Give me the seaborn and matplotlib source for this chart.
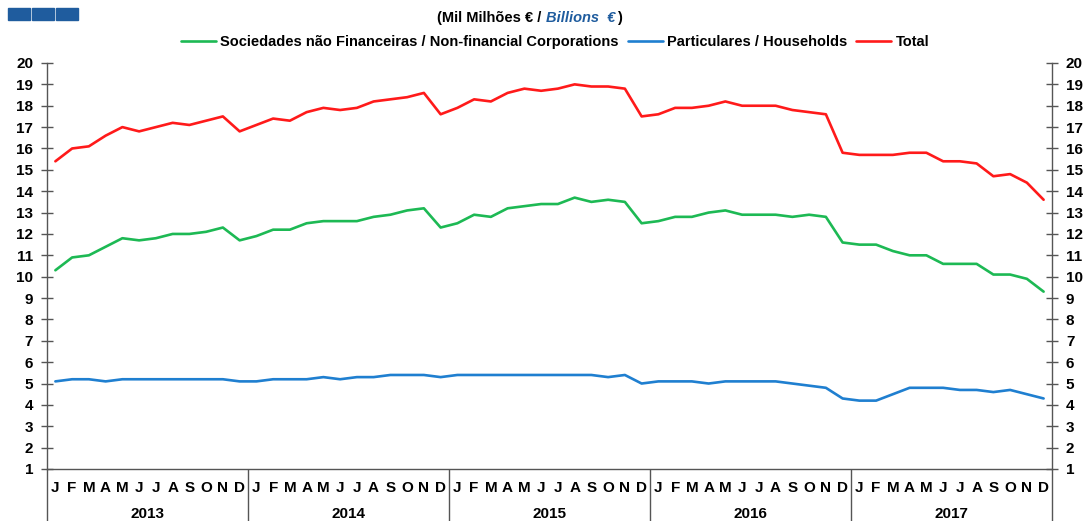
import numpy as np
import pandas as pd
import seaborn as sns
import matplotlib.pyplot as plt
from matplotlib.patches import Rectangle


years = ['2013', '2014', '2015', '2016', '2017']
month_letters = ['J', 'F', 'M', 'A', 'M', 'J', 'J', 'A', 'S', 'O', 'N', 'D']

# Mil Milhoes EUR, Jan 2013 .. Dec 2017
nfc = [10.3, 10.9, 11.0, 11.4, 11.8, 11.7, 11.8, 12.0, 12.0, 12.1, 12.3, 11.7,
       11.9, 12.2, 12.2, 12.5, 12.6, 12.6, 12.6, 12.8, 12.9, 13.1, 13.2, 12.3,
       12.5, 12.9, 12.8, 13.2, 13.3, 13.4, 13.4, 13.7, 13.5, 13.6, 13.5, 12.5,
       12.6, 12.8, 12.8, 13.0, 13.1, 12.9, 12.9, 12.9, 12.8, 12.9, 12.8, 11.6,
       11.5, 11.5, 11.2, 11.0, 11.0, 10.6, 10.6, 10.6, 10.1, 10.1, 9.9, 9.3]
households = [5.1, 5.2, 5.2, 5.1, 5.2, 5.2, 5.2, 5.2, 5.2, 5.2, 5.2, 5.1,
              5.1, 5.2, 5.2, 5.2, 5.3, 5.2, 5.3, 5.3, 5.4, 5.4, 5.4, 5.3,
              5.4, 5.4, 5.4, 5.4, 5.4, 5.4, 5.4, 5.4, 5.4, 5.3, 5.4, 5.0,
              5.1, 5.1, 5.1, 5.0, 5.1, 5.1, 5.1, 5.1, 5.0, 4.9, 4.8, 4.3,
              4.2, 4.2, 4.5, 4.8, 4.8, 4.8, 4.7, 4.7, 4.6, 4.7, 4.5, 4.3]
total = [15.4, 16.0, 16.1, 16.6, 17.0, 16.8, 17.0, 17.2, 17.1, 17.3, 17.5, 16.8,
         17.1, 17.4, 17.3, 17.7, 17.9, 17.8, 17.9, 18.2, 18.3, 18.4, 18.6, 17.6,
         17.9, 18.3, 18.2, 18.6, 18.8, 18.7, 18.8, 19.0, 18.9, 18.9, 18.8, 17.5,
         17.6, 17.9, 17.9, 18.0, 18.2, 18.0, 18.0, 18.0, 17.8, 17.7, 17.6, 15.8,
         15.7, 15.7, 15.7, 15.8, 15.8, 15.4, 15.4, 15.3, 14.7, 14.8, 14.4, 13.6]

series_names = ['Sociedades não Financeiras / Non-financial Corporations',
                'Particulares / Households', 'Total']
palette = dict(zip(series_names, ['#1db954', '#1f7fd0', '#ff1a1a']))

n = len(total)
df = pd.DataFrame({'t': list(range(n)) * 3,
                   'value': nfc + households + total,
                   'series': np.repeat(series_names, n)})

sns.set_style('white')
plt.rcParams['font.family'] = ['Liberation Sans', 'DejaVu Sans']
plt.rcParams['font.weight'] = 'bold'
plt.rcParams['text.color'] = 'black'
plt.rcParams['xtick.labelcolor'] = 'black'
plt.rcParams['ytick.labelcolor'] = 'black'

W, H = 1083, 521
fig = plt.figure(figsize=(W / 100, H / 100), dpi=100)
ax = fig.add_axes([47 / W, 1 - 469 / H, (1052 - 47) / W, (469 - 63) / H])

sns.lineplot(data=df, x='t', y='value', hue='series', palette=palette,
             linewidth=1.9, ax=ax)
sns.move_legend(ax, 'center', bbox_to_anchor=(555 / W, 1 - 42 / H),
                bbox_transform=fig.transFigure, ncol=3, frameon=False,
                title=None, fontsize=10.5, handlelength=2.4,
                handletextpad=0.3, columnspacing=0.6)
for t in ax.get_legend().get_texts():
    t.set_fontweight('bold')
    t.set_color('black')

grey = '#555555'
ax.set_xlim(-0.5, n - 0.5)
ax.set_ylim(1, 20)
ax.set_yticks(range(1, 21))
ax.tick_params(axis='y', direction='inout', length=8, width=1, color=grey,
               left=True, right=True, labelleft=True, labelright=True,
               labelsize=11, pad=6)
for lab in ax.get_yticklabels():
    lab.set_fontweight('bold')
ax.set_xlabel('')
ax.set_ylabel('')

# month letters with short separators
ax.set_xticks(range(n), labels=month_letters * len(years))
ax.set_xticks([k - 0.5 for k in range(n + 1) if k % 12], minor=True)
ax.tick_params(axis='x', which='major', length=0, pad=9, labelsize=11)
ax.tick_params(axis='x', which='minor', length=16, width=1, color=grey)
for lab in ax.get_xticklabels():
    lab.set_fontweight('bold')

for s in ['left', 'right', 'bottom']:
    ax.spines[s].set_color(grey)
    ax.spines[s].set_linewidth(1)
ax.spines['top'].set_visible(False)

# year labels with long separators
sec = ax.secondary_xaxis('bottom')
sec.set_xticks([k * 12 - 0.5 for k in range(len(years) + 1)],
               labels=[''] * (len(years) + 1))
sec.set_xticks([k * 12 + 5.5 for k in range(len(years))], labels=years, minor=True)
sec.tick_params(which='major', length=39, width=1, color=grey)
sec.tick_params(which='minor', length=0, pad=27, labelsize=11)
sec.spines['bottom'].set_visible(False)
for lab in sec.get_xticklabels(minor=True):
    lab.set_fontweight('bold')

# header
for i in range(3):
    fig.patches.append(Rectangle(((8 + 24 * i) / W, 1 - 20 / H), 22 / W, 12 / H,
                                 transform=fig.transFigure, color='#1f5c9e'))
t1 = fig.text(437 / W, 1 - 18 / H, '(Mil Milhões € / ', fontsize=10.5,
              fontweight='bold', va='center', ha='left')
t2 = fig.text(0, 0, 'Billions  €', fontsize=10.5, fontweight='bold',
              fontstyle='italic', color='#1f5c9e', va='center', ha='left')
fig.canvas.draw()
bb = t1.get_window_extent()
t2.set_position((bb.x1 / W, 1 - 18 / H))
fig.canvas.draw()
bb2 = t2.get_window_extent()
fig.text(bb2.x1 / W + 2 / W, 1 - 18 / H, ')', fontsize=10.5, fontweight='bold',
         va='center', ha='left')

fig.savefig('out.png', dpi=100)
